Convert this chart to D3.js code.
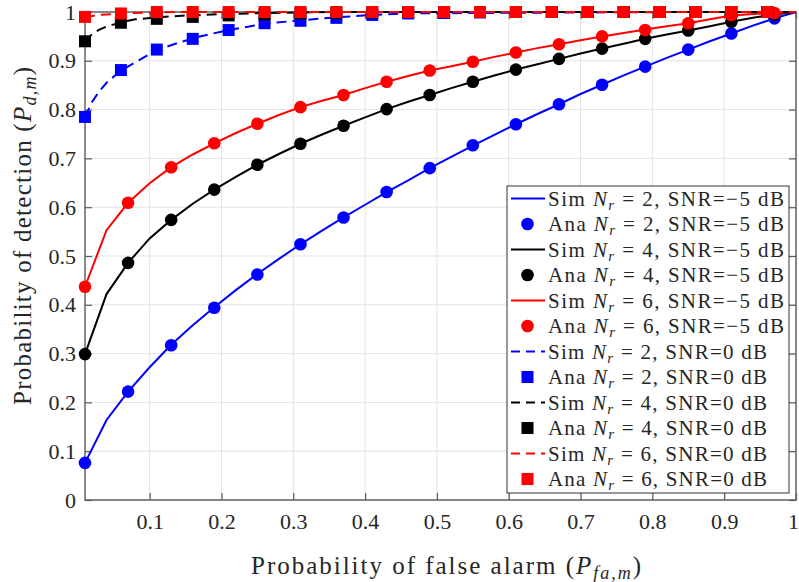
<!doctype html>
<html>
<head>
<meta charset="utf-8">
<script src="https://d3js.org/d3.v7.min.js"></script>
<style>
  body { margin: 0; background: #fff; }
</style>
</head>
<body>
<script>
// simulated curves, SNR = -5 dB (x grid step 0.03)
const simX = [0.01,0.04,0.07,0.10,0.13,0.16,0.19,0.22,0.25,0.28,0.31,0.34,0.37,0.40,0.43,0.46,0.49,
              0.52,0.55,0.58,0.61,0.64,0.67,0.70,0.73,0.76,0.79,0.82,0.85,0.88,0.91,0.94,0.97,1.00];
const simNr2m5 = [0.076,0.164,0.222,0.272,0.318,0.358,0.395,0.430,0.463,0.494,0.524,0.552,0.579,0.605,0.631,0.655,0.680,
                  0.703,0.726,0.748,0.770,0.791,0.811,0.832,0.851,0.870,0.888,0.906,0.923,0.940,0.956,0.972,0.987,1.000];
const simNr4m5 = [0.299,0.422,0.486,0.536,0.574,0.607,0.636,0.662,0.687,0.709,0.730,0.749,0.767,0.784,0.801,0.816,0.830,
                  0.844,0.857,0.870,0.882,0.893,0.904,0.915,0.925,0.935,0.945,0.954,0.962,0.971,0.980,0.988,0.995,1.000];
const simNr6m5 = [0.437,0.553,0.609,0.649,0.682,0.708,0.731,0.752,0.771,0.789,0.805,0.818,0.830,0.844,0.857,0.869,0.880,
                  0.889,0.898,0.908,0.917,0.926,0.934,0.942,0.950,0.957,0.964,0.971,0.977,0.985,0.993,0.996,0.998,1.000];

// analytical points, SNR = -5 dB (circles)
const anaX = [0.01,0.07,0.13,0.19,0.25,0.31,0.37,0.43,0.49,0.55,0.61,0.67,0.73,0.79,0.85,0.91,0.97];
const anaNr2m5 = [0.076,0.222,0.317,0.394,0.462,0.524,0.579,0.631,0.680,0.727,0.770,0.811,0.851,0.888,0.923,0.956,0.987];
const anaNr4m5 = [0.299,0.486,0.574,0.636,0.687,0.730,0.767,0.801,0.830,0.857,0.882,0.904,0.925,0.945,0.962,0.980,0.995];
const anaNr6m5 = [0.437,0.609,0.682,0.731,0.771,0.805,0.830,0.857,0.880,0.898,0.917,0.934,0.950,0.963,0.977,0.994,0.998];

// simulated curves, SNR = 0 dB
const simX0 = [0.01,0.02,0.03,0.04,0.06,0.08,0.11,0.14,0.17,0.21,0.26,0.31,0.36,0.41,0.46,0.55,0.70,0.85,1.00];
const simNr2z = [0.785,0.816,0.838,0.855,0.880,0.897,0.922,0.937,0.950,0.963,0.976,0.983,0.989,0.994,0.997,0.998,0.999,1.000,1.000];
const simNr4z = [0.939,0.955,0.964,0.970,0.979,0.985,0.989,0.992,0.994,0.996,0.998,0.999,1.000,1.000,1.000,1.000,1.000,1.000,1.000];
const simNr6z = [0.990,0.992,0.994,0.995,0.997,0.998,0.999,1.000,1.000,1.000,1.000,1.000,1.000,1.000,1.000,1.000,1.000,1.000,1.000];

// analytical points, SNR = 0 dB (squares)
const sqX = [0.01,0.06,0.11,0.16,0.21,0.26,0.31,0.36,0.41,0.46,0.51,0.56,0.61,0.66,0.71,0.76,0.81,0.86,0.91,0.96];
const anaNr2z = [0.785,0.881,0.923,0.945,0.963,0.977,0.982,0.988,0.994,0.997,0.998,0.999,1,1,1,1,1,1,1,1];
const anaNr4z = [0.940,0.978,0.986,0.990,0.993,0.995,0.997,0.998,0.999,1,1,1,1,1,1,1,1,1,1,1];
const anaNr6z = [0.990,0.997,1,1,1,1,1,1,1,1,1,1,1,1,1,1,1,1,1,1];

const xTicks = [0.1,0.2,0.3,0.4,0.5,0.6,0.7,0.8,0.9,1];
const yTicks = [0,0.1,0.2,0.3,0.4,0.5,0.6,0.7,0.8,0.9,1];

const W = 799, H = 582;
const pL = 85, pR = 796, pT = 12, pB = 500;
const serif = "'Liberation Serif'";

const svg = d3.select("body").append("svg").attr("width", W).attr("height", H)
  .style("font-family", serif);

const x = d3.scaleLinear().domain([0.01, 1]).range([pL, pR]);
const y = d3.scaleLinear().domain([0, 1]).range([pB, pT]);

// grid
svg.append("g").selectAll("line").data(xTicks).join("line")
  .attr("x1", d => x(d)).attr("x2", d => x(d)).attr("y1", pT).attr("y2", pB)
  .attr("stroke", "#e3e3e3").attr("stroke-width", 1);
svg.append("g").selectAll("line").data(yTicks).join("line")
  .attr("x1", pL).attr("x2", pR).attr("y1", d => y(d)).attr("y2", d => y(d))
  .attr("stroke", "#e3e3e3").attr("stroke-width", 1);

// axes (ticks inward, mirrored on top/right)
const axCol = "#5a5a5a";
function styleAxis(g) {
  g.attr("font-family", null).attr("font-size", null);
  g.select(".domain").remove();
  g.selectAll(".tick line").attr("stroke", axCol).attr("stroke-width", 1.2);
  g.selectAll("text").attr("font-size", 22).attr("fill", "#262626");
}
const gx = svg.append("g").attr("transform", `translate(0,${pB})`)
  .call(d3.axisBottom(x).tickValues(xTicks).tickFormat(d3.format("")).tickSizeInner(-7).tickPadding(13))
  .call(styleAxis);
gx.selectAll(".tick text").filter(d => d === 1).attr("dx", -3);
svg.append("g").attr("transform", `translate(${pL},0)`)
  .call(d3.axisLeft(y).tickValues(yTicks).tickFormat(d3.format("")).tickSizeInner(-7).tickPadding(9))
  .call(styleAxis);
svg.append("g").attr("transform", `translate(0,${pT})`)
  .call(d3.axisTop(x).tickValues(xTicks).tickFormat("").tickSizeInner(-7))
  .call(styleAxis);
svg.append("g").attr("transform", `translate(${pR},0)`)
  .call(d3.axisRight(y).tickValues(yTicks).tickFormat("").tickSizeInner(-7))
  .call(styleAxis);
svg.append("rect").attr("x", pL).attr("y", pT).attr("width", pR - pL).attr("height", pB - pT)
  .attr("fill", "none").attr("stroke", axCol).attr("stroke-width", 1.4);

// series
const line = d3.line().x(d => x(d[0])).y(d => y(d[1]));
const zip = (a, b) => a.map((v, i) => [v, b[i]]);
const dash = "10,6";

const series = [
  { xs: simX, ys: simNr2m5, ax: anaX, ay: anaNr2m5, color: "#0000ff", dashed: false, sq: false, nr: 2, snr: "\u22125" },
  { xs: simX, ys: simNr4m5, ax: anaX, ay: anaNr4m5, color: "#000000", dashed: false, sq: false, nr: 4, snr: "\u22125" },
  { xs: simX, ys: simNr6m5, ax: anaX, ay: anaNr6m5, color: "#ff0000", dashed: false, sq: false, nr: 6, snr: "\u22125" },
  { xs: simX0, ys: simNr2z, ax: sqX, ay: anaNr2z, color: "#0000ff", dashed: true, sq: true, nr: 2, snr: "0" },
  { xs: simX0, ys: simNr4z, ax: sqX, ay: anaNr4z, color: "#000000", dashed: true, sq: true, nr: 4, snr: "0" },
  { xs: simX0, ys: simNr6z, ax: sqX, ay: anaNr6z, color: "#ff0000", dashed: true, sq: true, nr: 6, snr: "0" }
];

function drawMarker(g, cx, cy, s) {
  if (s.sq) {
    g.append("rect").attr("x", cx - 6).attr("y", cy - 6).attr("width", 12).attr("height", 12).attr("fill", s.color);
  } else {
    g.append("circle").attr("cx", cx).attr("cy", cy).attr("r", 6.3).attr("fill", s.color);
  }
}

series.forEach(s => {
  const g = svg.append("g");
  g.append("path").datum(zip(s.xs, s.ys)).attr("d", line)
    .attr("fill", "none").attr("stroke", s.color).attr("stroke-width", 2)
    .attr("stroke-dasharray", s.dashed ? dash : null);
  zip(s.ax, s.ay).forEach(p => drawMarker(g, x(p[0]), y(p[1]), s));
});

// legend
const lg = svg.append("g");
const lx = 507, ly = 186, lw = 282, lh = 307, rowH = 25.5, row0 = 198.5;
lg.append("rect").attr("x", lx).attr("y", ly).attr("width", lw).attr("height", lh)
  .attr("fill", "#fff").attr("stroke", "#333").attr("stroke-width", 1);

let row = 0;
series.forEach(s => {
  ["Sim", "Ana"].forEach(kind => {
    const cy = row0 + row * rowH;
    if (kind === "Sim") {
      lg.append("line").attr("x1", 511).attr("x2", 545).attr("y1", cy).attr("y2", cy)
        .attr("stroke", s.color).attr("stroke-width", 2).attr("stroke-dasharray", s.dashed ? "9,6" : null);
    } else {
      drawMarker(lg, 527.5, cy, s);
    }
    const t = lg.append("text").attr("x", 548).attr("y", cy + 7).attr("font-size", 21)
      .attr("textLength", s.snr === "0" ? 219 : 236).attr("lengthAdjust", "spacing");
    t.append("tspan").text(kind + " ");
    t.append("tspan").attr("font-style", "italic").text("N");
    t.append("tspan").attr("font-style", "italic").attr("font-size", 15).attr("dy", 4).text("r");
    t.append("tspan").attr("dy", -4).text(` = ${s.nr}, SNR=${s.snr} dB`);
    row++;
  });
});

// axis labels
const yl = svg.append("text").attr("transform", "translate(31,236) rotate(-90)")
  .attr("text-anchor", "middle").attr("font-size", 25)
  .attr("textLength", 338).attr("lengthAdjust", "spacing");
yl.append("tspan").text("Probability of detection (");
yl.append("tspan").attr("font-style", "italic").text("P");
yl.append("tspan").attr("font-style", "italic").attr("font-size", 18).attr("dy", 5).text("d,m");
yl.append("tspan").attr("dy", -5).text(")");

const xl = svg.append("text").attr("x", 446).attr("y", 574)
  .attr("text-anchor", "middle").attr("font-size", 25)
  .attr("textLength", 390).attr("lengthAdjust", "spacing");
xl.append("tspan").text("Probability of false alarm (");
xl.append("tspan").attr("font-style", "italic").text("P");
xl.append("tspan").attr("font-style", "italic").attr("font-size", 18).attr("dy", 5).text("fa,m");
xl.append("tspan").attr("dy", -5).text(")");

// serif font on every text element
svg.selectAll("text").style("font-family", serif).attr("fill", "#262626");
</script>
</body>
</html>
